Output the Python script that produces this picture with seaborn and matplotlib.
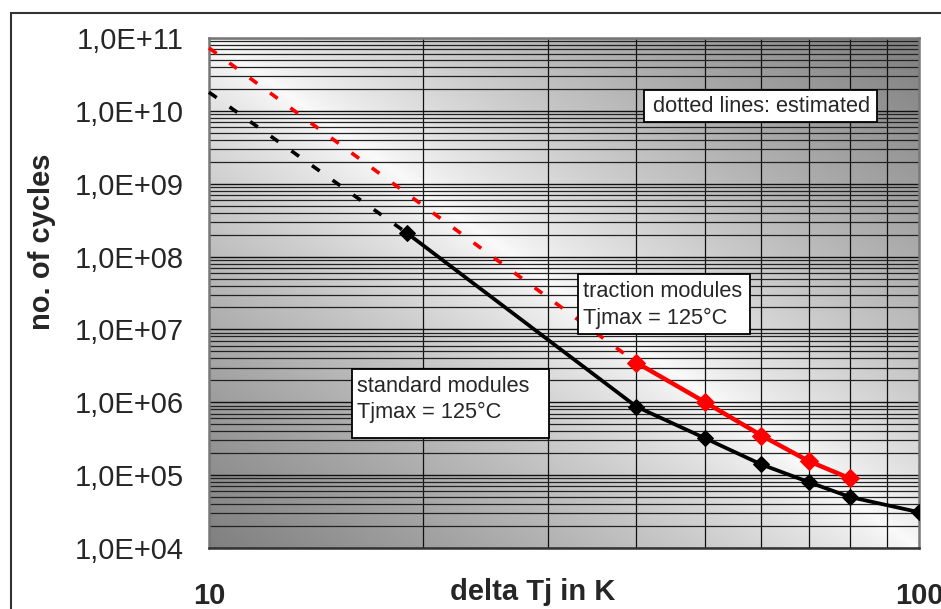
import numpy as np
import pandas as pd
import matplotlib
matplotlib.use("Agg")
import matplotlib.pyplot as plt
import matplotlib.ticker as mticker
from matplotlib.patches import Rectangle
import seaborn as sns

# Values (delta Tj in K vs. no. of cycles)
standard_dt = [19, 40, 50, 60, 70, 80, 100]
standard_cycles = [2.1e8, 8.7e5, 3.2e5, 1.4e5, 8.0e4, 5.0e4, 3.1e4]

traction_dt = [40, 50, 60, 70, 80]
traction_cycles = [3.5e6, 1.0e6, 3.5e5, 1.55e5, 9.0e4]

# estimated (dotted) extensions
standard_est_dt = [10, 19]
standard_est_cycles = [1.8e10, 2.1e8]
traction_est_dt = [10, 40]
traction_est_cycles = [7.3e10, 3.5e6]

x_labels = ["10", "100"]

FONT = ["Liberation Sans", "DejaVu Sans"]


def make_frames():
    std = pd.DataFrame({"dt": standard_dt, "cycles": standard_cycles})
    trac = pd.DataFrame({"dt": traction_dt, "cycles": traction_cycles})
    std_est = pd.DataFrame({"dt": standard_est_dt, "cycles": standard_est_cycles})
    trac_est = pd.DataFrame({"dt": traction_est_dt, "cycles": traction_est_cycles})
    return std, trac, std_est, trac_est


def draw_background(fig, pos):
    """Diagonal grey gradient behind the plot area (light along the
    top-left / bottom-right diagonal, dark in the other two corners)."""
    bg = fig.add_axes(pos, zorder=0)
    u, v = np.meshgrid(np.linspace(0, 1, 400), np.linspace(1, 0, 300))
    d = np.abs(u + v - 1.0)
    grey = 0.98 - 0.48 * d ** 0.8
    bg.imshow(grey, cmap="gray", vmin=0, vmax=1, extent=[0, 1, 0, 1],
              aspect="auto", interpolation="bilinear")
    bg.axis("off")
    return bg


def text_box(ax, rect, tx, baselines, lines):
    """White label box with black border; lines placed on given baselines."""
    ax.add_patch(Rectangle(rect[:2], rect[2], rect[3], transform=ax.transAxes,
                           facecolor="white", edgecolor="black", lw=1.3,
                           zorder=6, clip_on=False))
    for yb, line in zip(baselines, lines):
        ax.text(tx, yb, line, transform=ax.transAxes, fontsize=15.7,
                ha="left", va="baseline", zorder=7)


def main():
    sns.set_style("white")
    plt.rcParams["font.family"] = FONT

    std, trac, std_est, trac_est = make_frames()

    fig = plt.figure(figsize=(9.41, 6.09), dpi=100)
    pos = [209 / 941, 1 - 548 / 609, 710 / 941, 510 / 609]
    draw_background(fig, pos)

    ax = fig.add_axes(pos, zorder=1)
    ax.patch.set_alpha(0)
    ax.set_xscale("log")
    ax.set_yscale("log")
    ax.set_xlim(10, 100)
    ax.set_ylim(1e4, 1e11)

    # grid: every minor step on y, 20..90 on x
    ax.set_axisbelow(True)
    ax.yaxis.set_major_locator(mticker.LogLocator(base=10, numticks=20))
    ax.yaxis.set_minor_locator(mticker.LogLocator(base=10, subs=np.arange(2, 10), numticks=20))
    ax.xaxis.set_major_locator(mticker.FixedLocator([10, 100]))
    ax.xaxis.set_minor_locator(mticker.FixedLocator(np.arange(20, 100, 10)))
    ax.grid(True, which="major", axis="y", color="#111111", lw=1.0)
    ax.grid(True, which="minor", axis="y", color="#222222", lw=0.9)
    ax.grid(True, which="minor", axis="x", color="#111111", lw=0.9)

    dots = (0, (2.6, 4.4))
    sns.lineplot(data=trac_est, x="dt", y="cycles", ax=ax, color="red",
                 lw=2.6, linestyle=dots, clip_on=False, zorder=3)
    sns.lineplot(data=std_est, x="dt", y="cycles", ax=ax, color="black",
                 lw=2.6, linestyle=dots, clip_on=False, zorder=3)
    sns.lineplot(data=std, x="dt", y="cycles", ax=ax, color="black", lw=2.7,
                 marker="D", markersize=8, markeredgecolor="black", zorder=4)
    sns.lineplot(data=trac, x="dt", y="cycles", ax=ax, color="red", lw=3.2,
                 marker="D", markersize=9, markeredgecolor="red", zorder=5)

    ax.yaxis.set_major_formatter(mticker.FuncFormatter(
        lambda v, p: "1,0E+%02d" % int(round(np.log10(v)))))
    ax.yaxis.set_minor_formatter(mticker.NullFormatter())
    ax.set_xticklabels(x_labels)
    ax.xaxis.set_minor_formatter(mticker.NullFormatter())

    ax.tick_params(axis="y", which="major", direction="out", length=6, width=1,
                   color="#555555", pad=12, labelsize=21)
    ax.tick_params(axis="x", which="major", direction="out", length=6, width=1,
                   color="#555555", pad=18.5, labelsize=21)
    ax.tick_params(which="minor", length=0)
    for lbl in ax.get_xticklabels():
        lbl.set_fontweight("bold")

    for side in ["left", "right", "top", "bottom"]:
        ax.spines[side].set_color("#777777")
        ax.spines[side].set_linewidth(1.8)
    ax.spines["bottom"].set_color("#333333")

    ax.set_xlabel("delta Tj in K", fontsize=21, fontweight="bold")
    ax.set_ylabel("no. of cycles", fontsize=21, fontweight="bold")
    ax.xaxis.set_label_coords(0.456, -0.058)
    ax.yaxis.set_label_coords(-0.216, 0.60)

    text_box(ax, (0.2014, 0.2157, 0.2775, 0.1353), 0.2085, (0.3059, 0.2549),
             ("standard modules", "Tjmax = 125°C"))
    text_box(ax, (0.5197, 0.4196, 0.2423, 0.1176), 0.5268, (0.4922, 0.4392),
             ("traction modules", "Tjmax = 125°C"))
    text_box(ax, (0.6127, 0.8353, 0.3282, 0.0627), 0.6254, (0.8549,),
             ("dotted lines: estimated",))

    # outer chart frame (top and left edges visible)
    fig.patches.append(Rectangle((10.5 / 941, -0.2), 2, 0.2 + 1 - 13 / 609,
                                 transform=fig.transFigure, fill=False,
                                 edgecolor="#333333", lw=1.5, zorder=0))

    fig.savefig("out.png", dpi=100)


if __name__ == "__main__":
    main()
